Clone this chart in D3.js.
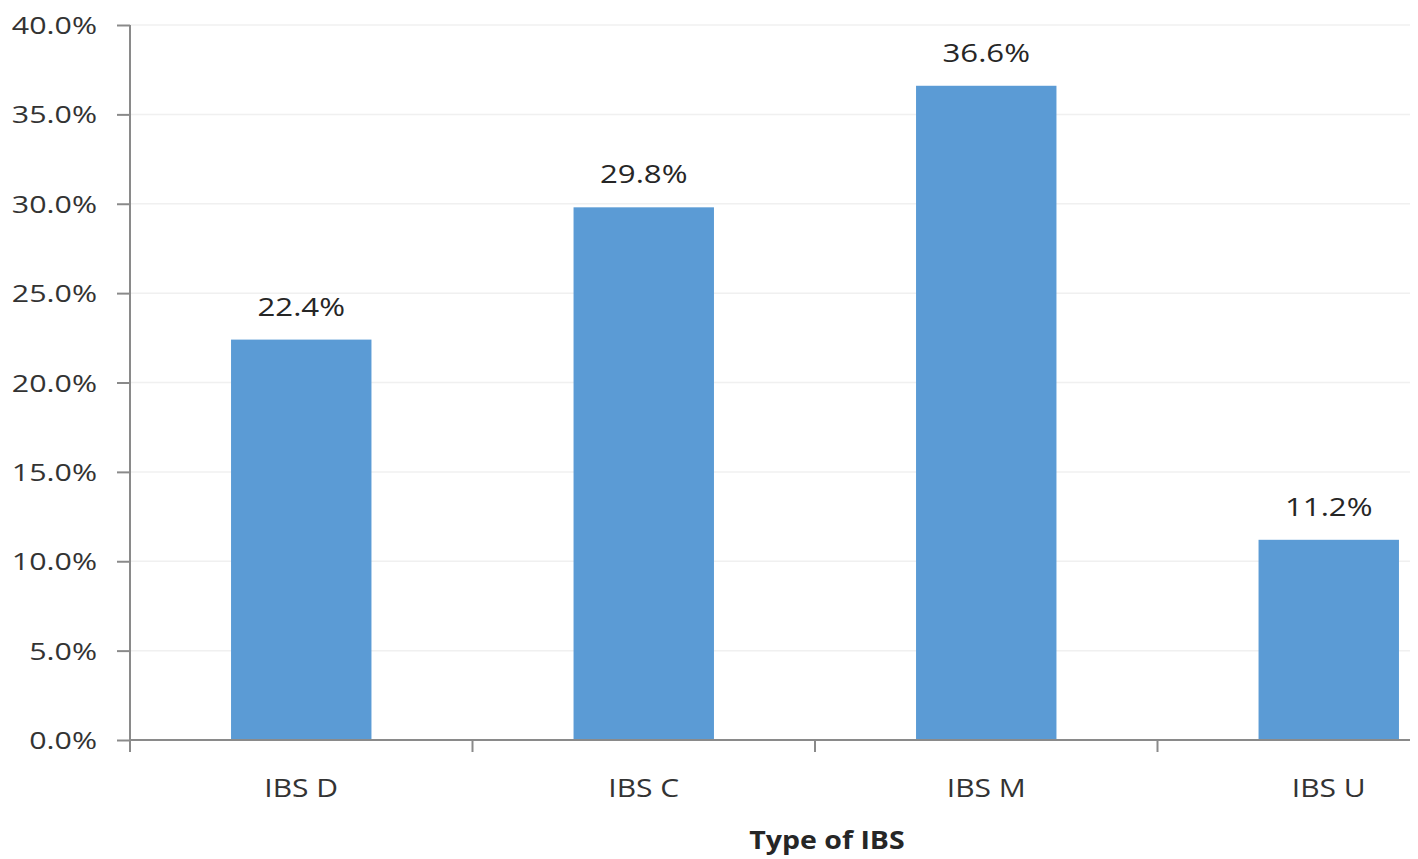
<!DOCTYPE html>
<html>
<head>
<meta charset="utf-8">
<script src="https://cdn.jsdelivr.net/npm/d3@7"></script>
<style>
  html, body { margin: 0; padding: 0; background: #fff; }
  svg { display: block; }
  text { font-family: "Open Sans", "Noto Sans", sans-serif; }
</style>
</head>
<body>
<svg id="chart" width="1418" height="859"></svg>
<script>
const categories = ["IBS D", "IBS C", "IBS M", "IBS U"];
const values = [22.4, 29.8, 36.6, 11.2];
const yTicks = [0, 5, 10, 15, 20, 25, 30, 35, 40];
const xTitle = "Type of IBS";

const svg = d3.select("#chart");
const plotLeft = 130, plotRight = 1500, plotTop = 25, plotBottom = 740, axisEnd = 1410;

const x = d3.scaleBand().domain(categories).range([plotLeft, plotRight])
  .paddingInner(0.59).paddingOuter(0.295);
const y = d3.scaleLinear().domain([0, 40]).range([plotBottom, plotTop]);

// horizontally widen text about its anchor point
function widen(sel, f) {
  sel.each(function () {
    const t = d3.select(this);
    const tx = +t.attr("x") || 0, ty = +t.attr("y") || 0;
    const prev = t.attr("transform") || "";
    t.attr("x", 0).attr("y", 0)
     .attr("transform", `${prev} translate(${tx},${ty}) scale(${f},1)`);
  });
}

// gridlines
svg.append("g").selectAll("line").data(yTicks.filter(d => d > 0)).join("line")
  .attr("x1", plotLeft).attr("x2", axisEnd)
  .attr("y1", d => y(d)).attr("y2", d => y(d))
  .attr("stroke", "#f0f0f0").attr("stroke-width", 1.5);

// bars
svg.append("g").selectAll("rect").data(values).join("rect")
  .attr("x", (d, i) => x(categories[i]))
  .attr("width", x.bandwidth())
  .attr("y", d => y(d))
  .attr("height", d => y(0) - y(d))
  .attr("fill", "#5B9BD5");

// data labels
const dl = svg.append("g").selectAll("text").data(values).join("text")
  .attr("x", (d, i) => x(categories[i]) + x.bandwidth() / 2)
  .attr("y", d => y(d) - 24)
  .attr("text-anchor", "middle")
  .attr("font-size", 26)
  .attr("fill", "#262626")
  .text(d => d.toFixed(1) + "%");
widen(dl, 1.2);

// y axis
const yAxis = svg.append("g").attr("transform", `translate(${plotLeft},0)`)
  .call(d3.axisLeft(y).tickValues(yTicks).tickSize(13).tickPadding(0)
    .tickFormat(d => d.toFixed(1) + "%"));
yAxis.select(".domain").attr("stroke", "#8a8a8a").attr("stroke-width", 2)
  .attr("d", `M0,${plotTop}V${plotBottom}`);
yAxis.selectAll(".tick line").attr("stroke", "#8a8a8a").attr("stroke-width", 2);
yAxis.selectAll(".tick text").attr("font-size", 24.5).attr("fill", "#333")
  .attr("x", -33).attr("y", 8.5).attr("dy", null);
widen(yAxis.selectAll(".tick text"), 1.24);

// x axis
const step = x.step();
const boundaries = categories.map(c => x(c) - (step - x.bandwidth()) / 2);
const xg = svg.append("g");
xg.append("line").attr("x1", plotLeft).attr("x2", axisEnd)
  .attr("y1", plotBottom).attr("y2", plotBottom)
  .attr("stroke", "#8a8a8a").attr("stroke-width", 2);
xg.selectAll("line.tk").data(boundaries).join("line").attr("class", "tk")
  .attr("x1", d => d).attr("x2", d => d)
  .attr("y1", plotBottom).attr("y2", plotBottom + 12)
  .attr("stroke", "#8a8a8a").attr("stroke-width", 2);
const xl = xg.selectAll("text").data(categories).join("text")
  .attr("x", d => x(d) + x.bandwidth() / 2)
  .attr("y", 797)
  .attr("text-anchor", "middle")
  .attr("font-size", 25)
  .attr("fill", "#333")
  .text(d => d);
widen(xl, 1.2);

// x title
const xt = svg.append("text")
  .attr("x", 827).attr("y", 849)
  .attr("text-anchor", "middle")
  .attr("font-size", 25)
  .attr("font-weight", "bold")
  .attr("fill", "#262626")
  .text(xTitle);
widen(xt, 1.14);
</script>
</body>
</html>
